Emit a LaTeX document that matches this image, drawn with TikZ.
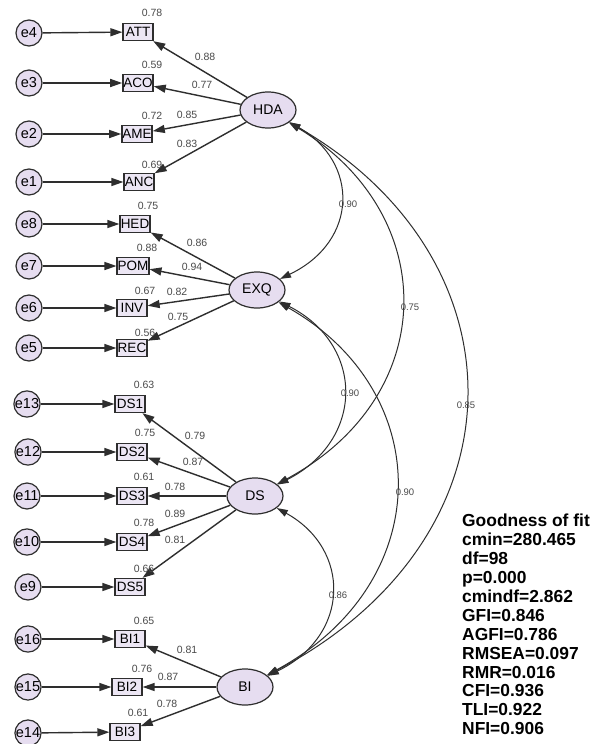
\documentclass[tikz,border=0pt]{standalone}
\usepackage{fontspec}
\setmainfont{Liberation Sans}
\usetikzlibrary{shapes.geometric,arrows.meta}
\definecolor{lav}{HTML}{E6DDF0}
\definecolor{boxfill}{HTML}{ECE6F4}
\definecolor{edgec}{HTML}{2E2E2E}
\definecolor{lbl}{HTML}{4A4A4A}
\begin{document}
\begin{tikzpicture}[x=1pt,y=-1pt,
  err/.style={circle,draw=edgec,fill=lav,line width=1.2pt,minimum size=26pt,inner sep=0pt,font=\fontsize{14.5}{14.5}\selectfont},
  obs/.style={rectangle,draw=edgec,fill=boxfill,line width=1.3pt,minimum width=30pt,minimum height=17pt,inner sep=0.5pt,font=\fontsize{13.5}{13.5}\selectfont},
  lat/.style={ellipse,draw=edgec,fill=lav,line width=1.2pt,minimum width=56pt,minimum height=36pt,inner sep=0pt,font=\fontsize{14}{14}\selectfont},
  arr/.style={line width=1.4pt,draw=edgec,-{Triangle[length=12pt,width=8pt]}},
  cov/.style={line width=1pt,draw=edgec,{Triangle[length=11pt,width=7pt]}-{Triangle[length=11pt,width=7pt]}},
  rsq/.style={font=\fontsize{10.5}{10.5}\selectfont,text=lbl,inner sep=0pt},
  cl/.style={font=\fontsize{9.5}{9.5}\selectfont,text=lbl,inner sep=0pt},
]
\useasboundingbox (0,0) rectangle (592,744);
\fill[white] (0,0) rectangle (592,744);

% latent variables
\node[lat] (HDA) at (268,110) {HDA};
\node[lat] (EXQ) at (257,290) {EXQ};
\node[lat] (DS)  at (255,496) {DS};
\node[lat] (BI)  at (245,687) {BI};

% observed
\node[obs] (ATT) at (138,32) {ATT};
\node[obs] (ACO) at (138,83) {ACO};
\node[obs] (AME) at (137,134) {AME};
\node[obs] (ANC) at (139,182) {ANC};
\node[obs] (HED) at (135,224) {HED};
\node[obs] (POM) at (133,266) {POM};
\node[obs] (INV) at (132,308) {INV};
\node[obs] (REC) at (132,348) {REC};
\node[obs] (DS1) at (130,404) {DS1};
\node[obs] (DS2) at (132,452) {DS2};
\node[obs] (DS3) at (132,496) {DS3};
\node[obs] (DS4) at (132,542) {DS4};
\node[obs] (DS5) at (130,587) {DS5};
\node[obs] (BI1) at (130,639) {BI1};
\node[obs] (BI2) at (127,687) {BI2};
\node[obs] (BI3) at (125,732) {BI3};

% errors
\node[err] (e4) at (29,33) {e4};
\node[err] (e3) at (29,83) {e3};
\node[err] (e2) at (29,134) {e2};
\node[err] (e1) at (29,182) {e1};
\node[err] (e8) at (29,224) {e8};
\node[err] (e7) at (29,266) {e7};
\node[err] (e6) at (29,308) {e6};
\node[err] (e5) at (29,348) {e5};
\node[err] (e13) at (27,404) {e13};
\node[err] (e12) at (28,452) {e12};
\node[err] (e11) at (27,496) {e11};
\node[err] (e10) at (27,542) {e10};
\node[err] (e9) at (28,587) {e9};
\node[err] (e16) at (28,639) {e16};
\node[err] (e15) at (28,687) {e15};
\node[err] (e14) at (28,733) {e14};

% error arrows
\foreach \e/\o in {e4/ATT,e3/ACO,e2/AME,e1/ANC,e8/HED,e7/POM,e6/INV,e5/REC,e13/DS1,e12/DS2,e11/DS3,e10/DS4,e9/DS5,e16/BI1,e15/BI2,e14/BI3}
  \draw[arr] (\e) -- (\o);

% loadings
\foreach \l/\o in {HDA/ATT,HDA/ACO,HDA/AME,HDA/ANC,EXQ/HED,EXQ/POM,EXQ/INV,EXQ/REC,DS/DS1,DS/DS2,DS/DS3,DS/DS4,DS/DS5,BI/BI1,BI/BI2,BI/BI3}
  \draw[arr] (\l) -- (\o);

% covariances
\draw[cov] (HDA) .. controls (359,162) and (359,241) .. (EXQ);
\draw[cov] (HDA) .. controls (441,214) and (441,396) .. (DS);
\draw[cov] (HDA) .. controls (528,260) and (528,538) .. (BI);
\draw[cov] (EXQ) .. controls (365,345) and (365,440) .. (DS);
\draw[cov] (EXQ) .. controls (437,392) and (437,583) .. (BI);
\draw[cov] (DS) .. controls (351,549) and (351,635) .. (BI);

% squared multiple correlations
\node[rsq] (r1) at (152,13) {0.78};
\node[rsq] (r2) at (152,65) {0.59};
\node[rsq] (r3) at (152,116) {0.72};
\node[rsq] (r4) at (152,165) {0.69};
\node[rsq] (r5) at (148,206) {0.75};
\node[rsq] (r6) at (147,248) {0.88};
\node[rsq] (r7) at (145,291) {0.67};
\node[rsq] (r8) at (145,333) {0.56};
\node[rsq] (r9) at (144,385) {0.63};
\node[rsq] (r10) at (145,433) {0.75};
\node[rsq] (r11) at (144,477) {0.61};
\node[rsq] (r12) at (144,523) {0.78};
\node[rsq] (r13) at (144,569) {0.66};
\node[rsq] (r14) at (144,621) {0.65};
\node[rsq] (r15) at (142,669) {0.76};
\node[rsq] (r16) at (138,713) {0.61};

% loading labels
\node[rsq] (l1) at (205,57) {0.88};
\node[rsq] (l2) at (202,85) {0.77};
\node[rsq] (l3) at (187,115) {0.85};
\node[rsq] (l4) at (187,144) {0.83};
\node[rsq] (l5) at (197,243) {0.86};
\node[rsq] (l6) at (192,267) {0.94};
\node[rsq] (l7) at (177,292) {0.82};
\node[rsq] (l8) at (178,317) {0.75};
\node[rsq] (l9) at (195,436) {0.79};
\node[rsq] (l10) at (193,462) {0.87};
\node[rsq] (l11) at (175,487) {0.78};
\node[rsq] (l12) at (175,514) {0.89};
\node[rsq] (l13) at (175,540) {0.81};
\node[rsq] (l14) at (187,650) {0.81};
\node[rsq] (l15) at (168,677) {0.87};
\node[rsq] (l16) at (167,704) {0.78};

% covariance labels
\node[cl] (c1) at (348,204) {0.90};
\node[cl] (c2) at (410,307) {0.75};
\node[cl] (c3) at (466,405) {0.85};
\node[cl] (c4) at (350,393) {0.90};
\node[cl] (c5) at (405,492) {0.90};
\node[cl] (c6) at (338,595) {0.86};

% fit statistics
\node[anchor=north west,align=left,inner sep=0pt,font=\fontsize{17.4}{18.9}\selectfont\bfseries,text=black] (fit) at (462,514)
{Goodness of fit\\cmin=280.465\\df=98\\p=0.000\\cmindf=2.862\\GFI=0.846\\AGFI=0.786\\RMSEA=0.097\\RMR=0.016\\CFI=0.936\\TLI=0.922\\NFI=0.906};
\end{tikzpicture}
\end{document}
